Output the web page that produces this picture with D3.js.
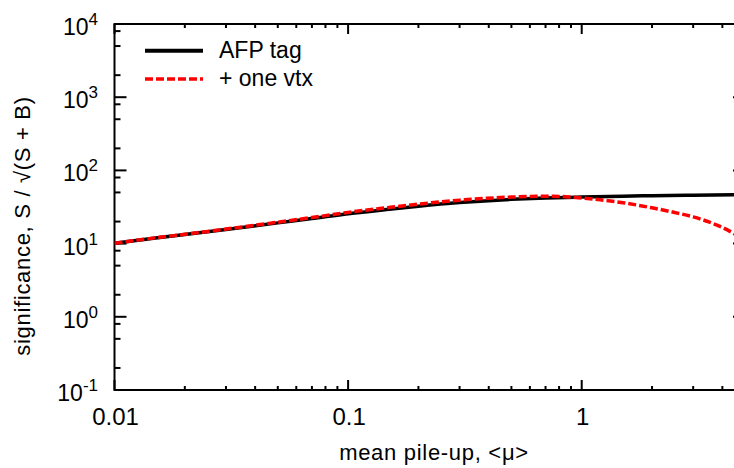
<!DOCTYPE html>
<html>
<head>
<meta charset="utf-8">
<script src="https://cdn.jsdelivr.net/npm/d3@7"></script>
<style>
  body { margin: 0; background: #fff; }
  svg { display: block; font-family: 'Liberation Sans', Arial, sans-serif; }
</style>
</head>
<body>
<div id="chart"></div>
<script>
// Data
const muAfp = [0.01, 0.015, 0.02, 0.03, 0.05, 0.07, 0.1, 0.15, 0.2, 0.3, 0.5, 0.7, 1.0, 1.5, 2.0, 3.0, 5.0]
const sigAfp = [10.1, 11.9, 13.3, 15.6, 19.2, 22.0, 25.6, 29.5, 32.4, 36.3, 40.2, 42.0, 43.3, 44.5, 45.2, 45.9, 46.6]
const muVtx = [0.01, 0.015, 0.02, 0.03, 0.05, 0.07, 0.1, 0.15, 0.2, 0.3, 0.5, 0.7, 0.85, 1.0, 1.2, 1.5, 2.0, 2.5, 3.0, 3.5, 4.0, 4.5, 5.0]
const sigVtx = [10.1, 12.0, 13.4, 15.8, 19.6, 22.7, 26.7, 31.2, 34.6, 39.2, 43.2, 44.4, 43.8, 42.0, 39.6, 36.2, 30.8, 26.6, 23.2, 19.8, 16.6, 13.6, 11.0]
const xTickLabels = ['0.01', '0.1', '1']
const yDecades = [-1, 0, 1, 2, 3, 4]
const seriesNames = ['AFP tag', '+ one vtx']

// Initialization
const width = 734
const height = 468
const mLeft = 114.5
const mTop = 24
const mBottom = 390
const mRight = 745

const svg = d3.select('#chart').append('svg')
  .attr('width', width)
  .attr('height', height)

const x = d3.scaleLog().domain([0.01, 5]).range([mLeft, mRight])
const y = d3.scaleLog().domain([0.1, 10000]).range([mBottom, mTop])

// Ticks
const xMinor = []
for (let e = -2; e <= 0; e++) {
  for (let k = 2; k <= 9; k++) {
    const v = k * Math.pow(10, e)
    if (v <= 5) xMinor.push(v)
  }
}
const xMajor = [0.01, 0.1, 1]
const yMinor = []
for (let e = -1; e <= 3; e++) {
  for (const k of [2, 5, 8]) yMinor.push(k * Math.pow(10, e))
}
const yMajor = yDecades.map(e => Math.pow(10, e))

const ax = svg.append('g')

function tick(x1, y1, x2, y2) {
  ax.append('line')
    .attr('x1', x1).attr('y1', y1)
    .attr('x2', x2).attr('y2', y2)
    .attr('stroke', '#000')
    .attr('stroke-width', 2)
}

// frame
ax.append('rect')
  .attr('x', mLeft).attr('y', mTop)
  .attr('width', mRight - mLeft).attr('height', mBottom - mTop)
  .attr('fill', 'none')
  .attr('stroke', '#000')
  .attr('stroke-width', 2)

// x ticks bottom & top
xMinor.forEach(v => {
  tick(x(v), mBottom, x(v), mBottom - 4)
  tick(x(v), mTop, x(v), mTop + 4)
})
xMajor.forEach(v => {
  tick(x(v), mBottom, x(v), mBottom - 10)
  tick(x(v), mTop, x(v), mTop + 10)
})
// y ticks left & right
yMinor.forEach(v => {
  tick(mLeft, y(v), mLeft + 6, y(v))
  tick(mRight, y(v), mRight - 6, y(v))
})
yMajor.forEach(v => {
  tick(mLeft, y(v), mLeft + 12, y(v))
  tick(mRight, y(v), mRight - 12, y(v))
})

// tick labels
svg.append('g').selectAll('text')
  .data(xMajor)
  .enter()
  .append('text')
  .attr('x', d => x(d) + 1)
  .attr('y', 425)
  .attr('text-anchor', 'middle')
  .style('font-size', '24px')
  .text((d, i) => xTickLabels[i])

const yl = svg.append('g').selectAll('text')
  .data(yDecades)
  .enter()
  .append('text')
  .attr('x', 98)
  .attr('y', d => y(Math.pow(10, d)) + 11)
  .attr('text-anchor', 'end')
  .style('font-size', '23px')
yl.append('tspan').text('10')
yl.append('tspan')
  .attr('dy', -10)
  .style('font-size', '17px')
  .text(d => d)

// axis titles
svg.append('text')
  .attr('x', 434)
  .attr('y', 460)
  .attr('text-anchor', 'middle')
  .style('font-size', '22px')
  .style('letter-spacing', '0.7px')
  .text('mean pile-up, <\u03bc>')

svg.append('text')
  .attr('transform', 'translate(30,226) rotate(-90)')
  .attr('text-anchor', 'middle')
  .style('font-size', '22px')
  .style('letter-spacing', '0.7px')
  .text('significance, S / \u221a(S + B)')

// curves
svg.append('clipPath').attr('id', 'clip')
  .append('rect').attr('x', mLeft).attr('y', mTop).attr('width', mRight - mLeft).attr('height', mBottom - mTop)

const line = d3.line()
  .x(d => x(d[0]))
  .y(d => y(d[1]))
  .curve(d3.curveMonotoneX)

svg.append('path')
  .datum(d3.zip(muAfp, sigAfp))
  .attr('clip-path', 'url(#clip)')
  .attr('d', line)
  .attr('fill', 'none')
  .attr('stroke', '#000')
  .attr('stroke-width', 3.5)

svg.append('path')
  .datum(d3.zip(muVtx, sigVtx))
  .attr('clip-path', 'url(#clip)')
  .attr('d', line)
  .attr('fill', 'none')
  .attr('stroke', '#ff0000')
  .attr('stroke-width', 3.5)
  .attr('stroke-dasharray', '8,3')

// legend
const legend = svg.append('g')
const legendY = [50.7, 79]
const legendStyle = [{ c: '#000', dash: null }, { c: '#ff0000', dash: '8,3' }]
seriesNames.forEach((name, i) => {
  legend.append('line')
    .attr('x1', 145).attr('x2', 203)
    .attr('y1', legendY[i]).attr('y2', legendY[i])
    .attr('stroke', legendStyle[i].c)
    .attr('stroke-width', i === 0 ? 4 : 3.5)
    .attr('stroke-dasharray', legendStyle[i].dash)
  legend.append('text')
    .attr('x', 219)
    .attr('y', legendY[i] + 7)
    .style('font-size', '23px')
    .text(name)
})
</script>
</body>
</html>
